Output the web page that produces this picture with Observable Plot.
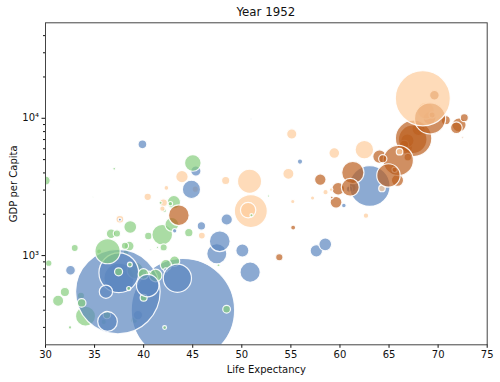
<!DOCTYPE html>
<html><head><meta charset="utf-8">
<script src="https://cdn.jsdelivr.net/npm/d3@7"></script>
<script src="https://cdn.jsdelivr.net/npm/@observablehq/plot@0.6"></script>
<style>
body{margin:0;background:#fff;}
#wrap{position:relative;width:500px;height:382px;font-family:"DejaVu Sans",sans-serif;background:#fff;overflow:hidden;}
#title{position:absolute;top:0;left:0;width:531.6px;height:20px;text-align:center;font-size:11.8px;line-height:16px;padding-top:4px;box-sizing:border-box;color:#111;}
#chart{position:absolute;top:20px;left:0;}
</style></head>
<body>
<div id="wrap"><div id="title">Year 1952</div><div id="chart"></div></div>
<script>
// [country, lifeExp, pop, gdpPercap]
const africa = [
["Algeria",43.077,9279525,2449.008],["Angola",30.015,4232095,3520.610],["Benin",38.223,1738315,1062.752],
["Botswana",47.622,442308,851.241],["Burkina Faso",31.975,4469979,543.255],["Burundi",39.031,2445618,339.296],
["Cameroon",38.523,5009067,1172.668],["Central African Republic",35.463,1291695,1071.311],["Chad",38.092,2682462,1178.666],
["Comoros",40.715,153936,1102.991],["Congo, Dem. Rep.",39.143,14100005,780.542],["Congo, Rep.",42.111,854885,2125.622],
["Cote d'Ivoire",40.477,2977019,1388.595],["Djibouti",34.812,63149,2669.530],["Egypt",41.893,22223309,1418.822],
["Equatorial Guinea",34.482,216964,375.643],["Eritrea",35.928,1438760,328.941],["Ethiopia",34.078,20860941,362.146],
["Gabon",37.003,420702,4293.476],["Gambia",30.000,284320,485.231],["Ghana",43.149,5581001,911.299],
["Guinea",33.609,2664249,510.196],["Guinea-Bissau",32.500,580653,299.850],["Kenya",42.270,6464046,853.541],
["Lesotho",42.138,748747,298.846],["Liberia",38.480,863308,575.572],["Libya",42.723,1019729,2387.548],
["Madagascar",36.681,4762912,1443.012],["Malawi",36.256,2917802,369.165],["Mali",33.685,3838168,452.337],
["Mauritania",40.543,1022556,743.116],["Mauritius",50.986,516556,1967.956],["Morocco",42.873,9939217,1688.204],
["Mozambique",31.286,6446316,468.526],["Namibia",41.725,485831,2423.780],["Niger",37.444,3379468,761.879],
["Nigeria",36.324,33119096,1077.282],["Reunion",52.724,257700,2718.885],["Rwanda",40.000,2534927,493.324],
["Sao Tome and Principe",46.471,60011,879.584],["Senegal",37.278,2755589,1450.357],["Sierra Leone",30.331,2143249,879.788],
["Somalia",32.978,2526994,1135.750],["South Africa",45.009,14264935,4725.296],["Sudan",38.635,8504667,1615.991],
["Swaziland",41.407,290243,1148.377],["Tanzania",41.215,8322925,716.650],["Togo",38.596,1219113,859.809],
["Tunisia",44.600,3647735,1468.476],["Uganda",39.978,5824797,734.753],["Zambia",42.038,2672000,1147.389],
["Zimbabwe",48.451,3080907,406.884]
];
const americas = [
["Argentina",62.485,17876956,5911.315],["Bolivia",40.414,2883315,2677.326],["Brazil",50.917,56602560,2108.944],
["Canada",68.750,14785584,11367.161],["Chile",54.745,6377619,3939.979],["Colombia",50.643,12350771,2144.115],
["Costa Rica",57.206,926317,2627.009],["Cuba",59.421,6007797,5586.539],["Dominican Republic",45.928,2491346,1397.717],
["Ecuador",48.357,3548753,3522.111],["El Salvador",45.262,2042865,3048.303],["Guatemala",42.023,3146381,2428.238],
["Haiti",37.579,3201488,1840.367],["Honduras",41.912,1517453,2194.926],["Jamaica",58.530,1426095,2898.531],
["Mexico",50.789,30144317,3478.126],["Nicaragua",42.314,1165790,3112.364],["Panama",55.191,940080,2480.380],
["Paraguay",62.649,1555876,1952.309],["Peru",43.902,8025700,3758.523],["Puerto Rico",64.280,2227000,3081.960],
["Trinidad and Tobago",59.100,662850,3023.272],["United States",68.440,157553000,13990.482],["Uruguay",66.071,2252965,5716.767],
["Venezuela",55.088,5439568,7689.800]
];
const asia = [
["Afghanistan",28.801,8425333,779.445],["Bahrain",50.939,120447,9867.085],["Bangladesh",37.484,46886859,684.244],
["Cambodia",39.417,4693836,368.469],["China",44.000,556263527,400.449],["Hong Kong, China",60.960,2125900,3054.421],
["India",37.373,372000000,546.566],["Indonesia",37.468,82052000,749.682],["Iran",44.869,17272000,3035.326],
["Iraq",45.320,5441766,4129.766],["Israel",65.390,1620914,4086.522],["Japan",63.030,86459025,3216.956],
["Jordan",43.158,607914,1546.908],["Korea, Dem. Rep.",50.056,8865488,1088.278],["Korea, Rep.",47.453,20947571,1030.592],
["Kuwait",55.565,160000,108382.353],["Lebanon",55.928,1439529,4834.804],["Malaysia",48.463,6748378,1831.133],
["Mongolia",42.244,800663,786.567],["Myanmar",36.319,20092996,331.000],["Nepal",36.157,9182536,545.866],
["Oman",37.578,507833,1828.230],["Pakistan",43.436,41346560,684.597],["Philippines",47.752,22438691,1272.880],
["Saudi Arabia",39.875,4005677,6459.555],["Singapore",60.396,1127000,2315.138],["Sri Lanka",57.593,7982342,1083.532],
["Syria",45.883,3661549,1643.486],["Taiwan",58.500,8550362,1206.947],["Thailand",50.848,21289402,757.797],
["Vietnam",40.412,26246839,605.067],["West Bank and Gaza",43.160,1030585,1515.592],["Yemen, Rep.",32.548,4963829,781.718]
];
const europe = [
["Albania",55.230,1282697,1601.056],["Austria",66.800,6927772,6137.076],["Belgium",68.000,8730405,8343.105],
["Bosnia and Herzegovina",53.820,2791000,973.533],["Bulgaria",59.600,7274900,2444.287],["Croatia",61.210,3882229,3119.237],
["Czech Republic",66.870,9125183,6876.140],["Denmark",70.780,4334000,9692.385],["Finland",66.550,4090500,6424.519],
["France",67.410,42459667,7029.809],["Germany",67.500,69145952,7144.114],["Greece",65.860,7733250,3530.690],
["Hungary",64.030,9504000,5263.674],["Iceland",72.490,147962,7267.688],["Ireland",66.910,2952156,5210.280],
["Italy",65.940,47666000,4931.404],["Montenegro",59.164,413834,2647.586],["Netherlands",72.130,10381988,8941.572],
["Norway",72.670,3327728,10095.422],["Poland",61.310,25730551,4029.330],["Portugal",59.820,8526050,3068.320],
["Romania",61.050,16630000,3144.613],["Serbia",57.996,6860147,3581.459],["Slovak Republic",64.360,3558137,5074.659],
["Slovenia",65.570,1489518,4215.042],["Spain",64.940,28549870,3834.035],["Sweden",71.860,7124673,8527.845],
["Switzerland",69.620,4815000,14734.233],["Turkey",43.585,22235677,1969.101],["United Kingdom",69.180,50430000,9979.508]
];
const oceania = [
["Australia",69.120,8691212,10039.596],["New Zealand",69.390,1994794,10556.576]
];
const continents = ["Africa","Americas","Asia","Europe","Oceania"];
const continentColors = ["#86cd7e","#fecc9b","#5b86bf","#bc5f20","#cc7030"];
const xTicks = [30,35,40,45,50,55,60,65,70,75];
const yMajorTicks = [1000,10000];
const yTickLabels = ["10³","10⁴"];
const xDomain = [30,75];
const yDomain = [224,49600];

const groups = [africa, americas, asia, europe, oceania];
const rows = [];
groups.forEach((g,i)=>g.forEach(([country,lifeExp,pop,gdp])=>rows.push({country,continent:continents[i],lifeExp,pop,gdp})));
rows.sort((a,b)=>d3.ascending(a.country,b.country));
const maxPop = d3.max(rows,d=>d.pop);
const yMinorTicks = d3.scaleLog().domain(yDomain).ticks().filter(t=>!yMajorTicks.includes(t));

const chart = Plot.plot({
  width:500, height:362,
  marginTop:2.3, marginLeft:45, marginRight:13.3, marginBottom:37.7,
  style:{fontFamily:"DejaVu Sans, sans-serif", fontSize:"10px", color:"#111", background:"white", overflow:"visible"},
  x:{domain:xDomain},
  y:{type:"log", domain:yDomain},
  r:{type:"sqrt", domain:[0,maxPop], range:[0,51.7]},
  color:{domain:continents, range:continentColors},
  marks:[
    Plot.dot(rows,{x:"lifeExp", y:"gdp", r:"pop", fill:"continent", fillOpacity:0.7, stroke:"white", strokeWidth:1.2, strokeOpacity:0.9, sort:null, clip:true}),
    Plot.axisX({ticks:xTicks, tickSize:3.5, tickPadding:2.5, label:"Life Expectancy", labelAnchor:"center", labelArrow:"none", labelOffset:28}),
    Plot.axisY({ticks:yMinorTicks, tickSize:2, tickFormat:()=>"", label:null}),
    Plot.axisY({ticks:yMajorTicks, tickSize:3.5, tickPadding:3, tickFormat:(d)=>yTickLabels[yMajorTicks.indexOf(d)], label:"GDP per Capita", labelAnchor:"center", labelArrow:"none", labelOffset:36}),
    Plot.frame({stroke:"#444", strokeWidth:1})
  ]
});
document.getElementById("chart").appendChild(chart);
</script>
</body></html>
